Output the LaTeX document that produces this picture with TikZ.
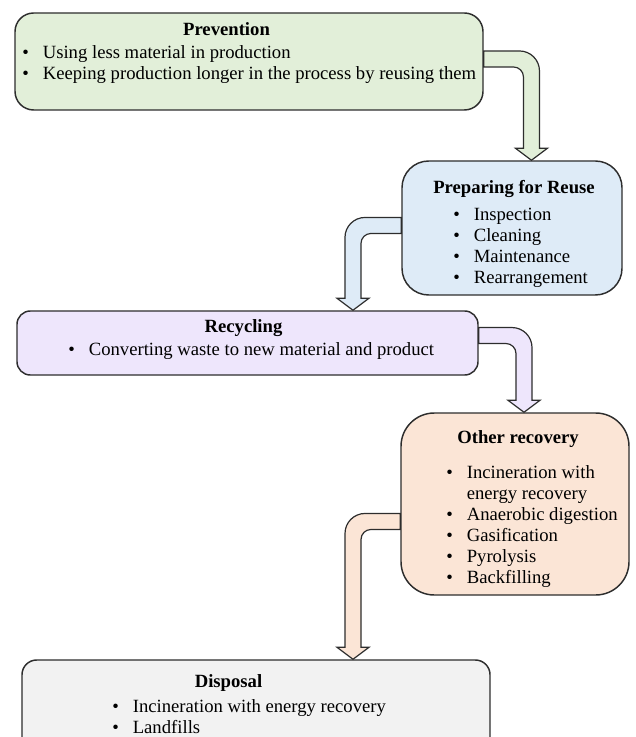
\documentclass[tikz,border=0pt]{standalone}
\usepackage{fontspec}
\setmainfont{Liberation Serif}
\usetikzlibrary{calc}
\definecolor{prevgreen}{RGB}{226,239,217}
\definecolor{reuseblue}{RGB}{222,235,247}
\definecolor{recyclilac}{RGB}{238,230,252}
\definecolor{recovpeach}{RGB}{251,229,214}
\definecolor{dispgray}{RGB}{242,242,242}
\definecolor{edgegray}{RGB}{45,45,45}
\tikzset{
  box/.style={draw=edgegray, line width=1.1pt, rectangle, inner sep=0pt},
  title/.style={anchor=base, font=\fontsize{14}{15.75}\selectfont\bfseries, inner sep=0pt},
  items/.style={anchor=base west, inner sep=0pt},
  bent/.style={draw=edgegray, line width=0.9pt, line join=miter},
}
% bent block arrow: #1 fill, #2 start, #3 tip, #4 turn (1 right, -1 left)
\newcommand{\bentarrow}[4]{%
\filldraw[bent, fill=#1] let \p1=(#2), \p2=(#3), \n1={#4} in
  (\x1,{\y1+6pt}) -- ({\x2+(\n1)*6pt-(\n1)*15pt},{\y1+6pt})
  arc[start angle=90, end angle={90-(\n1)*90}, radius=15pt]
  -- ({\x2+(\n1)*6pt},{\y2+9pt}) -- ({\x2+(\n1)*12pt},{\y2+9pt}) -- (\x2,\y2)
  -- ({\x2-(\n1)*12pt},{\y2+9pt}) -- ({\x2-(\n1)*6pt},{\y2+9pt})
  -- ({\x2-(\n1)*6pt},{\y1-6pt-7.5pt})
  arc[start angle={90-(\n1)*90}, end angle=90, radius=7.5pt]
  -- (\x1,{\y1-6pt}) -- cycle;}
\begin{document}
\begin{tikzpicture}[x=0.75pt, y=-0.75pt, font=\fontsize{14}{15.75}\selectfont]
\path[use as bounding box] (0,0) rectangle (635,737);
\clip (0,0) rectangle (635,737);
%boxes
\node[box, fill=prevgreen, rounded corners=14pt, minimum width=351pt, minimum height=72.75pt] (prevention) at (249,61.5) {};
\node[box, fill=reuseblue, rounded corners=20pt, minimum width=165pt, minimum height=100.5pt] (reuse) at (512,228) {};
\node[box, fill=recyclilac, rounded corners=10pt, minimum width=345.75pt, minimum height=48pt] (recycling) at (247.5,343) {};
\node[box, fill=recovpeach, rounded corners=25pt, minimum width=171pt, minimum height=136.5pt] (recovery) at (515,504) {};
\node[box, fill=dispgray, rounded corners=11pt, minimum width=351pt, minimum height=82.5pt] (disposal) at (256,715) {};
%texts
\node[title] (prevention title) at (226.5,36) {Prevention};
\node[items] (prevention items) at (22,59) {\begin{tabular}[t]{@{}l@{\hspace{10.5pt}}l@{}}
\textbullet & Using less material in production\\
\textbullet & Keeping production longer in the process by reusing them
\end{tabular}};
\node[title] (reuse title) at (514,194) {Preparing for Reuse};
\node[items] (reuse items) at (453,221) {\begin{tabular}[t]{@{}l@{\hspace{10.5pt}}l@{}}
\textbullet & Inspection\\
\textbullet & Cleaning\\
\textbullet & Maintenance\\
\textbullet & Rearrangement
\end{tabular}};
\node[title] (recycling title) at (243.5,332) {Recycling};
\node[items] (recycling items) at (68,355) {\begin{tabular}[t]{@{}l@{\hspace{10.5pt}}l@{}}
\textbullet & Converting waste to new material and product
\end{tabular}};
\node[title] (recovery title) at (518,443) {Other recovery};
\node[items] (recovery items) at (446,478) {\begin{tabular}[t]{@{}l@{\hspace{10.5pt}}l@{}}
\textbullet & Incineration with\\
 & energy recovery\\
\textbullet & Anaerobic digestion\\
\textbullet & Gasification\\
\textbullet & Pyrolysis\\
\textbullet & Backfilling
\end{tabular}};
\node[title] (disposal title) at (228.5,687) {Disposal};
\node[items] (disposal items) at (112,712) {\begin{tabular}[t]{@{}l@{\hspace{10.5pt}}l@{}}
\textbullet & Incineration with energy recovery\\
\textbullet & Landfills
\end{tabular}};
%arrows
\bentarrow{prevgreen}{[yshift=1.9pt]prevention.east}{[xshift=14.6pt]reuse.north}{1}
\bentarrow{reuseblue}{[yshift=1.9pt]reuse.west}{[xshift=79.1pt]recycling.north}{-1}
\bentarrow{recyclilac}{[yshift=5.6pt]recycling.east}{[xshift=6.75pt]recovery.north}{1}
\bentarrow{recovpeach}{[yshift=-13.1pt]recovery.west}{[xshift=72.75pt]disposal.north}{-1}
\end{tikzpicture}
\end{document}
